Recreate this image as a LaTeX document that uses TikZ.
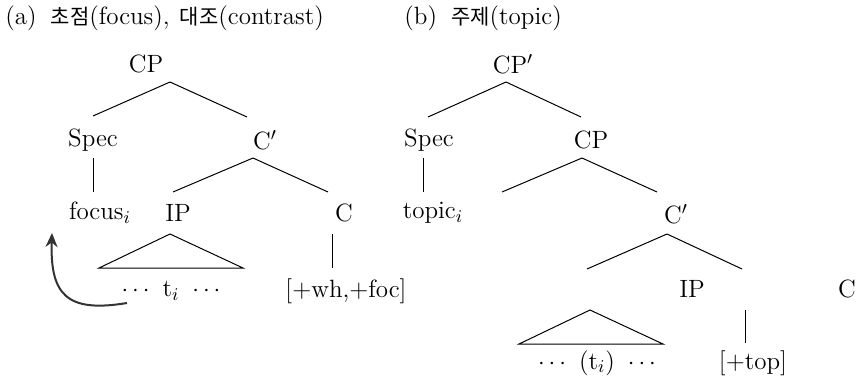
\documentclass[tikz,border=0pt]{standalone}
\usepackage{fontspec}
\newfontfamily\kr{Noto Sans CJK KR}
\usetikzlibrary{arrows.meta}

\begin{document}
\begin{tikzpicture}[x=0.5pt,y=-0.5pt,>=Latex,
  lbl/.style={inner sep=0pt,font=\fontsize{12.5}{14}\selectfont},
  ttl/.style={inner sep=0pt,anchor=west,font=\fontsize{12.5}{14}\selectfont},
  br/.style={line width=0.5pt}]
\useasboundingbox (0,0) rectangle (856,380);
\node[ttl] (tta) at (5,18) {(a)\hspace{7pt}{\kr\fontsize{10.5}{14}\selectfont 초점}(focus),\hspace{5pt}{\kr\fontsize{10.5}{14}\selectfont 대조}(contrast)};
\node[ttl] (ttb) at (404,18) {(b)\hspace{7pt}{\kr\fontsize{10.5}{14}\selectfont 주제}(topic)};
\node[lbl] (cpa) at (146,64) {CP};
\node[lbl] (speca) at (93,140) {Spec};
\node[lbl] (cbara) at (265,140) {C$'$};
\node[lbl] (focus) at (100,213) {focus$_i$};
\node[lbl] (ipa) at (178,213) {IP};
\node[lbl] (ca) at (344,213) {C};
\node[lbl] (tra) at (171,291) {$\cdots$\hspace{6.5pt}t$_i$\hspace{6.5pt}$\cdots$};
\node[lbl] (feata) at (346,291) {[+wh,+foc]};
\draw[br] ([shift={(24,18)}]cpa.center)--([shift={(0,-24)}]speca.center);
\draw[br] ([shift={(24,18)}]cpa.center)--([shift={(-18,-23)}]cbara.center);
\draw[br] ([shift={(0,18)}]speca.center)--([shift={(0,52)}]speca.center);
\draw[br] ([shift={(-12,18)}]cbara.center)--([shift={(-5,-21)}]ipa.center);
\draw[br] ([shift={(-12,18)}]cbara.center)--([shift={(-16,-21)}]ca.center);
\draw[br] ([shift={(-8,21)}]ipa.center)--([shift={(-79,55)}]ipa.center)--([shift={(65,55)}]ipa.center)--cycle;
\draw[br] ([shift={(-12,21)}]ca.center)--([shift={(-12,55)}]ca.center);
\draw[-{Stealth[length=7pt,width=6pt]},line width=1pt,black!80] ([shift={(-44,12)}]tra.center) .. controls ([shift={(-104,22)}]tra.center) and ([shift={(-121,4)}]tra.center) .. ([shift={(-48,20)}]focus.center);
\node[lbl] (cpb) at (513,64) {CP$'$};
\node[lbl] (specb) at (429,140) {Spec};
\node[lbl] (cpb2) at (591,140) {CP};
\node[lbl] (topic) at (433,213) {topic$_i$};
\node[lbl] (cbarb) at (676,214) {C$'$};
\node[lbl] (ipb) at (692,289) {IP};
\node[lbl] (cb) at (847,289) {C};
\node[lbl] (trb) at (597,363) {$\cdots$\hspace{6.5pt}(t$_i$)\hspace{6.5pt}$\cdots$};
\node[lbl] (featb) at (753,363) {[+top]};
\draw[br] ([shift={(-7,18)}]cpb.center)--([shift={(-1,-23)}]specb.center);
\draw[br] ([shift={(-7,18)}]cpb.center)--([shift={(-10,-23)}]cpb2.center);
\draw[br] ([shift={(-6,18)}]specb.center)--([shift={(-6,52)}]specb.center);
\draw[br] ([shift={(-9,18)}]cpb2.center)--([shift={(-89,52)}]cpb2.center);
\draw[br] ([shift={(-9,18)}]cpb2.center)--([shift={(66,52)}]cpb2.center);
\draw[br] ([shift={(-9,20)}]cbarb.center)--([shift={(-89,55)}]cbarb.center);
\draw[br] ([shift={(-9,20)}]cbarb.center)--([shift={(66,55)}]cbarb.center);
\draw[br] ([shift={(-7,-53)}]trb.center)--([shift={(-78,-19)}]trb.center)--([shift={(66,-19)}]trb.center)--cycle;
\draw[br] ([shift={(-8,-53)}]featb.center)--([shift={(-8,-20)}]featb.center);
\end{tikzpicture}
\end{document}
